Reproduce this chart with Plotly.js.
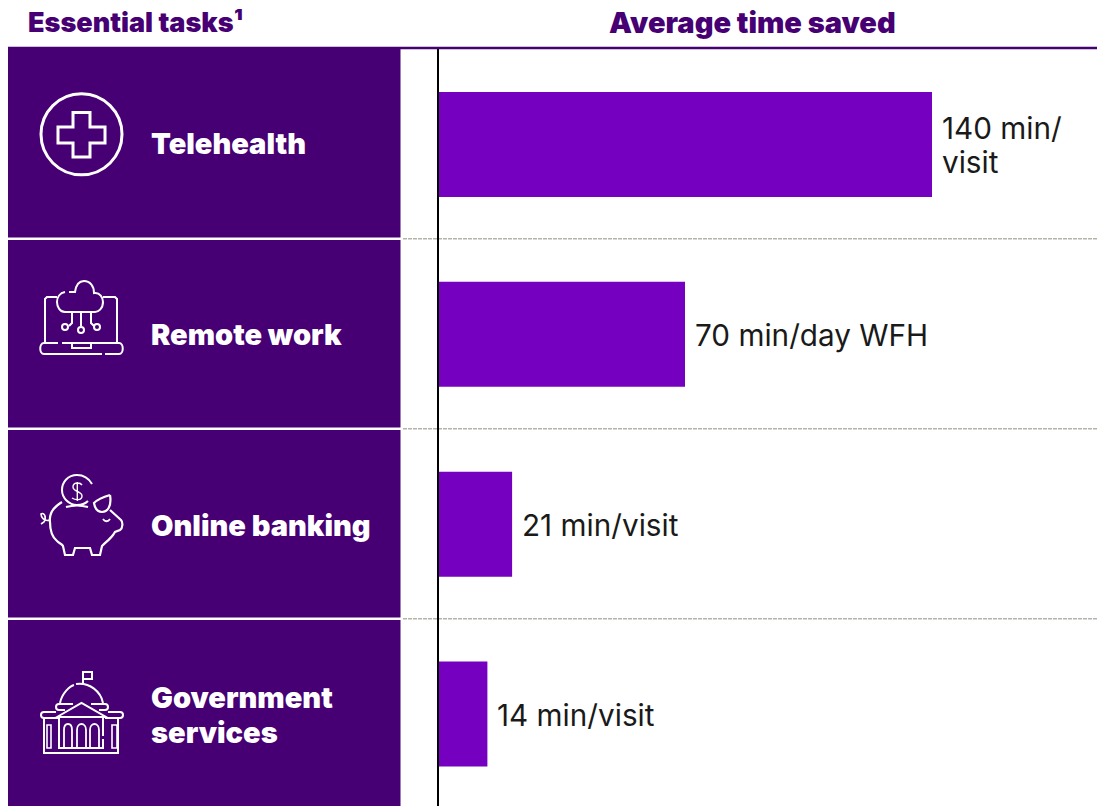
<!DOCTYPE html>
<html><head><meta charset="utf-8">
<script src="https://cdn.plot.ly/plotly-3.0.1.min.js"></script>
<style>html,body{margin:0;padding:0;background:#fff}#c{width:1097px;height:806px}</style>
</head><body><div id="c"></div>
<script>
const tasks = [["Telehealth"],["Remote work"],["Online banking"],["Government","services"]];
const minutes = [140,70,21,14];
const valueLabels = [["140 min/","visit"],["70 min/day WFH"],["21 min/visit"],["14 min/visit"]];
const leftHeader = "Essential tasks¹";
const rightHeader = "Average time saved";

const W=1097,H=806;
const DARK="#460073",BAR="#7500c0";
const px=x=>x/W, py=y=>1-y/H;
const font="Inter, 'Liberation Sans', sans-serif";

function iconPath(d){
  return d.replace(/(-?[\d.]+)[ ,](-?[\d.]+)/g,(m,a,b)=>px(+a).toFixed(5)+","+py(+b).toFixed(5));
}
function stroke(d,w){return {type:"path",xref:"paper",yref:"paper",path:iconPath(d),line:{color:"#fff",width:w||2},fillcolor:"rgba(0,0,0,0)",layer:"above"};}
function circle(cx,cy,r,w){return {type:"circle",xref:"paper",yref:"paper",x0:px(cx-r),x1:px(cx+r),y0:py(cy+r),y1:py(cy-r),line:{color:"#fff",width:w||2},fillcolor:"rgba(0,0,0,0)",layer:"above"};}
function rect(x0,y0,x1,y1,c){return {type:"rect",xref:"paper",yref:"paper",x0:px(x0),x1:px(x1),y0:py(y1),y1:py(y0),fillcolor:c,line:{width:0},layer:"below"};}
function hline(x0,x1,y,c,w,dash){return {type:"line",xref:"paper",yref:"paper",x0:px(x0),x1:px(x1),y0:py(y),y1:py(y),line:{color:c,width:w,dash:dash||"solid"},layer:"above"};}

const GRID="#b4b4ac";
const shapes=[
  rect(8,49,400.5,237.5,DARK),rect(8,240,400.5,427.5,DARK),rect(8,430,400.5,617.5,DARK),rect(8,620,400.5,806,DARK),
  hline(403,1097,238.8,GRID,1.4,"4px,1px"),hline(403,1097,428.8,GRID,1.4,"4px,1px"),hline(403,1097,618.8,GRID,1.4,"4px,1px"),
  hline(8,1097,48,DARK,2.4),
  // telehealth
  circle(81.5,134.3,40.5,3),
  stroke("M73 112.5 L90 112.5 L90 127 L105 127 L105 143 L90 143 L90 157 L73 157 L73 143 L58 143 L58 127 L73 127 Z",3),
  // remote work: laptop + cloud
  stroke("M57 297 L47 297 L45 299 L45 342 M103 297 L115 297 L117 299 L117 342",2),
  stroke("M69 292 L75 292 C76 285 79 281 84 281 C90 281 94 286 94 293 C100 292 103 298 103 302 C103 309 98 312 95 312 L65 312 C60 312 57 307 57 302 C57 297 60 293 65 292",2),
  stroke("M72 312 L72 323 L69 326 M81 312 L81 326 M91 312 L91 323 L94 326",2),
  circle(65,327,3,2),circle(81,330,3,2),circle(97,327,3,2),
  stroke("M58 343 L44 343 C39 343 39 354 44 354 L102 354 M62 343 L119 343 C124 343 124 354 119 354 L105 354",2),
  stroke("M72 343 L72 348 L91 348 L91 343",2),
  // banking: piggy bank + coin
  stroke("M92 484 C88 477 83 475 77 475 C68 475 62 482 62 490 C62 498 69 505 77 505 C82 505 86 503 88 501",2),
  stroke("M66 507 C73 505 81 505 88 507",2),
  stroke("M82 485 C80 482 73 482 73 487 C73 492 82 491 82 496 C82 501 75 500 72 498 M77.3 482 L77.3 501",1.4),
  stroke("M62 502 C52 508 49 515 50 522 C50 530 52 537 57 541 C60 544 62 544 63 546 L65 555 L73 555 L75 548 L90 548 L92 555 L100 555 L102 546 C106 542 110 539 113 535 L115 532 L120 530 C123 528 123 522 121 520 L110 510",2.2),
  stroke("M110 495 C103 497 97 500 94 503 C95 509 98 512 102 512 C107 512 112 507 110 495",2.2),
  stroke("M103 519 C105 522 108 522 110 519",1.8),
  stroke("M50 520 C44 522 41 517 41 514 C44 512 47 517 44 522 L41 524",1.6),
  // government building
  stroke("M83 685 L83 672 L92 672 L92 679 L83 679",2),
  stroke("M60 703 C62 693 70 686 74 685 M76 684 C90 682 101 692 103 703",2),
  stroke("M65 710 L59 710 C55 710 55 704 59 704 L73 704 M91 704 L105 704 C109 704 109 710 105 710 L99 710",2),
  stroke("M57 717 L81.5 703 L106 717 Z",2),
  stroke("M56 712 L44 712 C40 712 40 718 44 718 L59 718 M105 718 L120 718 C124 718 124 712 120 712 L108 712",2),
  stroke("M44 718 L44 753 L118 753 L118 718",2),
  stroke("M59 718 L59 748 M103 718 L103 736 M103 739 L103 748 M58 748 L104 748",2),
  stroke("M47 725 L51 725 L51 748 L47 748 Z M112 725 L117 725 L117 748 L112 748 Z",1.6),
  stroke("M64 748 L64 730 C64 722 72 722 72 730 L72 748 M77 748 L77 730 C77 722 86 722 86 730 L86 748 M90 748 L90 730 C90 722 99 722 99 730 L99 748",1.8),
];

const labelCentres=[143.5,334.5,525.5,715];
const WEIGHT=900;
const annotations=[
  {xref:"paper",yref:"paper",x:px(26),y:py(23),xanchor:"left",yanchor:"middle",showarrow:false,text:leftHeader,font:{family:font,size:27,color:DARK,weight:WEIGHT}},
  {xref:"paper",yref:"paper",x:px(752.5),y:py(23),xanchor:"center",yanchor:"middle",showarrow:false,text:rightHeader,font:{family:font,size:29,color:DARK,weight:WEIGHT}},
];
tasks.forEach((lines,i)=>{
  lines.forEach((t,j)=>{
    const off=(j-(lines.length-1)/2)*35;
    annotations.push({xref:"paper",yref:"paper",x:px(149),y:py(labelCentres[i]+off),xanchor:"left",yanchor:"middle",align:"left",showarrow:false,text:t,font:{family:font,size:29,color:"#fff",weight:WEIGHT}});
  });
  valueLabels[i].forEach((t,j)=>{
    const off=(j-(valueLabels[i].length-1)/2)*34;
    annotations.push({xref:"x",yref:"y",x:minutes[i],y:i,xanchor:"left",yanchor:"middle",align:"left",xshift:8,yshift:-off-1,showarrow:false,text:t,font:{family:font,size:29.7,color:"#1a1a1a"}});
  });
});

const pxPerMin=494/140;
Plotly.newPlot("c",[{
  type:"bar",orientation:"h",x:minutes,y:tasks.map((_,i)=>i),width:105/190,
  marker:{color:BAR,line:{width:0}},hoverinfo:"skip"
}],{
  width:W,height:H,margin:{l:0,r:0,t:0,b:0,pad:0},autosize:false,
  paper_bgcolor:"#fff",plot_bgcolor:"rgba(0,0,0,0)",showlegend:false,
  xaxis:{domain:[438/W,1],range:[0,(W-438)/pxPerMin],showgrid:false,zeroline:false,showticklabels:false,ticks:"",showline:false,fixedrange:true},
  yaxis:{domain:[0,1-49/H],range:[3+(806-714)/190,-(144.5-49)/190],tickmode:"array",tickvals:[],showgrid:false,zeroline:false,showticklabels:false,ticks:"",showline:false,fixedrange:true},
  shapes:shapes.concat([{type:"line",xref:"paper",yref:"paper",x0:px(438),x1:px(438),y0:0,y1:py(49),line:{color:"#000",width:2},layer:"above"}]),
  annotations:annotations
},{displayModeBar:false,staticPlot:true});
</script></body></html>
